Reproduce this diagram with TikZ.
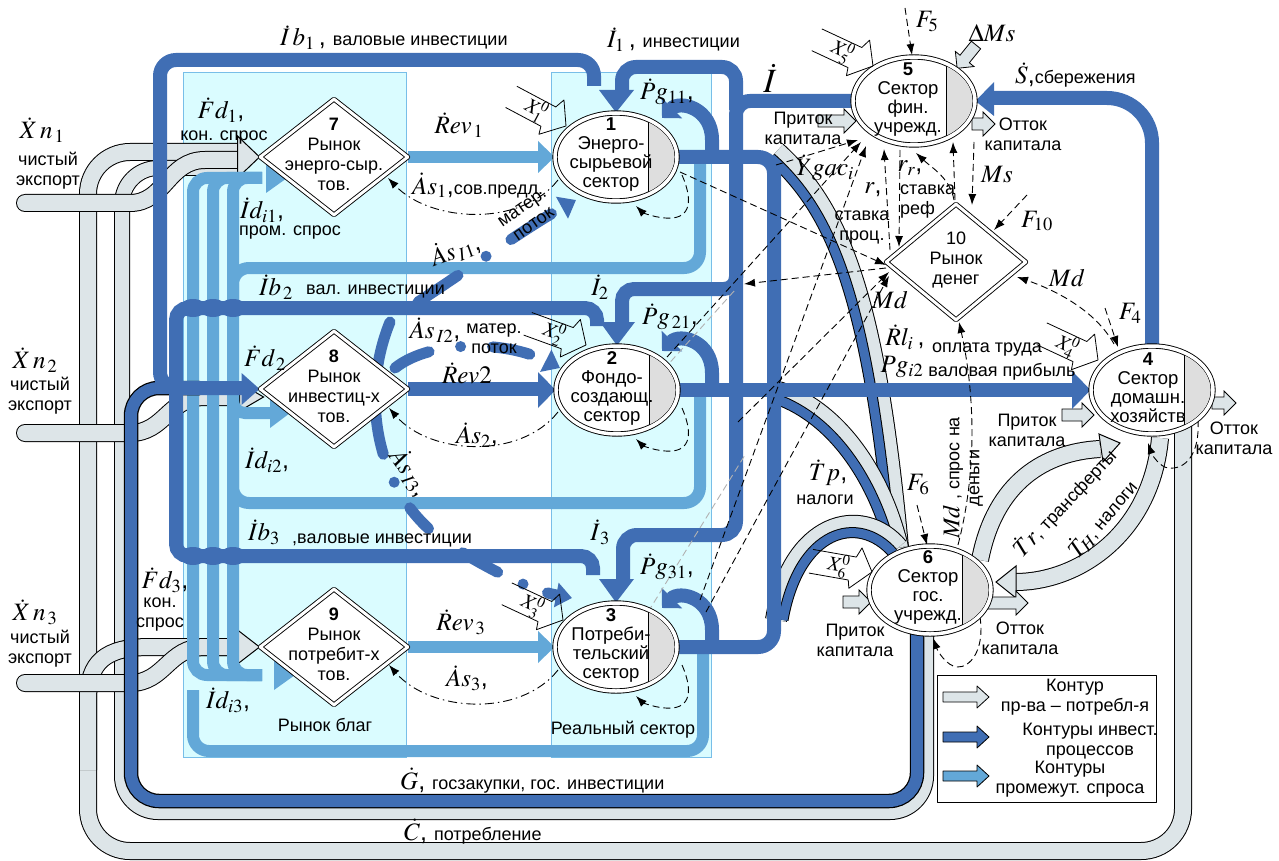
\documentclass[tikz,border=0pt]{standalone}
\usepackage{mathptmx}
\usepackage{fontspec}
\setmainfont{Liberation Sans}
\usetikzlibrary{arrows.meta,shapes.geometric,calc}
\definecolor{dbc}{RGB}{64,110,180}
\definecolor{lbc}{RGB}{99,168,216}
\definecolor{grc}{RGB}{221,229,232}
\definecolor{cyb}{RGB}{218,252,255}
\definecolor{cyl}{RGB}{120,190,232}
\definecolor{hat}{RGB}{222,222,222}
\pgfdeclarelayer{bg}
\pgfdeclarelayer{mid}
\pgfsetlayers{bg,mid,main}
\newcommand\smtxt[1]{{\fontsize{18}{20}\selectfont #1}}
\newcommand\blkarr[5]{\filldraw[fill=#5,draw=black,line width=0.8pt] (#1,#2-#4) -- (#3-12,#2-#4) -- (#3-12,#2-#4-6) -- (#3,#2) -- (#3-12,#2+#4+6) -- (#3-12,#2+#4) -- (#1,#2+#4) -- cycle;}
\tikzset{
 db/.style={draw=dbc,line width=14pt},
 lb/.style={draw=lbc,line width=12pt},
 gb/.style={draw=black,line width=1pt,double=grc,double distance=16pt},
 dsh/.style={draw=black,line width=0.9pt,dash pattern=on 7pt off 4pt},
 dshdot/.style={draw=black,line width=0.9pt,dash pattern=on 9pt off 4pt on 1.5pt off 4pt},
 ltip/.style={-{Latex[length=11pt,width=8pt]}},
 mflow/.style={draw=dbc,line width=11pt,line cap=round},
 sector/.style={ellipse,draw,line width=0.9pt,double=white,double distance=3.5pt,fill=white,minimum width=122pt,minimum height=88pt,inner sep=0pt},
 market/.style={diamond,draw,line width=0.9pt,double=white,double distance=3pt,fill=white,minimum width=148pt,minimum height=116pt,inner sep=0pt},
 ntxt/.style={align=center,font=\fontsize{18.5}{19}\selectfont,inner sep=0pt},
 lbl/.style={align=center,font=\fontsize{18}{20}\selectfont,inner sep=0pt},
 ml/.style={font=\fontsize{25}{27}\selectfont,inner sep=0pt},
}
\begin{document}
\begin{tikzpicture}[x=1pt,y=-1pt,line join=round]
\useasboundingbox (0,0) rectangle (1279,861);
\begin{pgfonlayer}{bg}
 \fill[white] (0,0) rectangle (1279,861);
 \filldraw[fill=cyb,draw=cyl,line width=0.8pt] (183,72) rectangle (406,757);
 \filldraw[fill=cyb,draw=cyl,line width=0.8pt] (551,72) rectangle (711,757);
\end{pgfonlayer}
% ---------- nodes ----------
\foreach \n/\cx/\cy in {s1/616/157,s2/617/390,s3/616/647,s4/1152/390,s5/914/101,s6/930/590}{
  \node[sector] (\n) at (\cx,\cy) {};
  \begin{scope}
   \clip (\cx,\cy) ellipse [x radius=58.5pt,y radius=41.5pt];
   \fill[hat] (\cx+32,\cy-50) rectangle (\cx+70,\cy+50);
  \end{scope}
  \draw[line width=0.9pt] (\cx+32,\cy-35) -- (\cx+32,\cy+35);
}
\node[market] (d7) at (334,157) {};
\node[market] (d8) at (334,389) {};
\node[market] (d9) at (334,647) {};
\node[market,minimum width=140pt,minimum height=116pt] (d10) at (956,262) {};
% ---------- connectors ----------
\begin{pgfonlayer}{mid}
% grey contours
\draw[gb,rounded corners=42pt] (1183,425) -- (1183,851) -- (88,851) -- (88,152) -- (240,152);
\draw[gb,double distance=14pt,rounded corners=36pt] (926,632) -- (926,812) -- (122,812) -- (122,168) -- (240,168);
\draw[gb] (88,770) -- (88,700) .. controls (88,662) and (105,647) .. (150,647) -- (240,647);
\draw[gb,line cap=round] (25,203) -- (130,203) .. controls (165,203) and (168,160) .. (205,160) -- (240,160);
\draw[gb,line cap=round] (25,433) -- (130,433) .. controls (165,433) and (168,397) .. (205,397) -- (240,397);
\draw[gb,line cap=round] (25,683) -- (130,683) .. controls (165,683) and (168,647) .. (205,647) -- (240,647);
\filldraw[fill=grc,draw=black,line width=1pt] ($(d7.west)+(-22,-21)$) -- (d7.west) -- ($(d7.west)+(-22,21)$) -- cycle;
\filldraw[fill=grc,draw=black,line width=1pt] ($(d8.west)+(-20,-6)$) -- ($(d8.west)+(4,8)$) -- ($(d8.west)+(-20,22)$) -- cycle;
\filldraw[fill=grc,draw=black,line width=1pt] ($(d9.west)+(-22,-17)$) -- (d9.west) -- ($(d9.west)+(-22,17)$) -- cycle;
% taxes bands to sector 6
\draw[black,line width=22pt] (776,152) .. controls (840,210) and (875,300) .. (898,548);
\draw[grc,line width=20pt] (776,152) .. controls (840,210) and (875,300) .. (898,548);
\draw[black,line width=11pt] (771,158) .. controls (834,214) and (868,303) .. (891,548);
\draw[dbc,line width=9pt] (771,158) .. controls (834,214) and (868,303) .. (891,548);
\draw[black,line width=22pt] (778,392) .. controls (840,412) and (882,480) .. (898,548);
\draw[grc,line width=20pt] (778,392) .. controls (840,412) and (882,480) .. (898,548);
\draw[black,line width=11pt] (776,399) .. controls (835,420) and (875,484) .. (891,550);
\draw[dbc,line width=9pt] (776,399) .. controls (835,420) and (875,484) .. (891,550);
\draw[black,line width=22pt] (776,620) .. controls (792,522) and (862,505) .. (898,548);
\draw[grc,line width=20pt] (776,620) .. controls (792,522) and (862,505) .. (898,548);
\draw[black,line width=11pt] (783,620) .. controls (799,530) and (858,513) .. (893,553);
\draw[dbc,line width=9pt] (783,620) .. controls (799,530) and (858,513) .. (893,553);
% sector 4 <-> sector 6
\draw[gb] (980,560) .. controls (995,482) and (1045,452) .. (1100,449);
\filldraw[fill=grc,draw=black,line width=1pt] (1099,434) -- (1120,443) -- (1103,462) -- cycle;
\draw[gb] (1160,438) .. controls (1152,530) and (1082,582) .. (1015,582);
\filldraw[fill=grc,draw=black,line width=1pt] (1016,566) -- (996,582) -- (1016,598) -- cycle;
% capital in/out
\blkarr{818}{121}{856}{6}{grc}
\blkarr{972}{124}{995}{6}{grc}
\blkarr{1062}{415}{1094}{6}{grc}
\blkarr{1212}{403}{1236}{6}{grc}
\blkarr{843}{602}{871}{6}{grc}
\blkarr{985}{603}{1028}{6}{grc}
\begin{scope}[shift={(976,45)},rotate=-129]
 \blkarr{0}{0}{30}{6}{grc}
\end{scope}
% light blue contours
\foreach \x in {193,213,233}{\draw[lb,rounded corners=14pt] (262,178) -- (\x,178) -- (\x,675) -- (262,675);}
\draw[lb,rounded corners=16pt] (700,163) -- (700,268) -- (233,268) -- (233,300);
\draw[lb,rounded corners=16pt] (700,396) -- (700,503) -- (233,503) -- (233,470);
\draw[lb,rounded corners=16pt] (703,653) -- (703,751) -- (193,751) -- (193,690);
\draw[lb,rounded corners=12pt] (233,395) -- (233,413) -- (272,413);
\draw[lb] (d7.east) -- (538,157);
\draw[lb] (d9.east) -- (538,647);
\fill[lbc] (538,141) -- (s1.west) -- (538,173) -- cycle;
\fill[lbc] (538,631) -- (s3.west) -- (538,663) -- cycle;
\fill[lbc] (266,163) -- (287,178) -- (266,193) -- cycle;
\fill[lbc] (270,398) -- (290,413) -- (270,428) -- cycle;
\fill[lbc] (274,660) -- (295,675) -- (274,690) -- cycle;
% dark blue contours
\draw[black,line width=14.5pt,rounded corners=28pt] (917,632) -- (917,801) -- (131,801) -- (131,388) -- (200,388);
\draw[dbc,line width=12pt,rounded corners=28pt] (917,632) -- (917,801) -- (131,801) -- (131,388) -- (200,388);
\draw[db,rounded corners=16pt] (594,86) -- (594,60) -- (160,60) -- (160,388) -- (242,388);
\draw[db,rounded corners=12pt] (597,326) -- (597,308) -- (176,308) -- (176,388);
\draw[db,rounded corners=12pt] (176,388) -- (176,556) -- (593,556) -- (593,575);
\foreach \x in {193,213,233}{
 \foreach \y in {308,556}{
  \fill[dbc] (\x-10,\y-6) .. controls (\x-5,\y-10) and (\x+5,\y-10) .. (\x+10,\y-6) -- cycle;
  \fill[dbc] (\x-10,\y+6) .. controls (\x-5,\y+10) and (\x+5,\y+10) .. (\x+10,\y+6) -- cycle;
 }
}
\draw[db,rounded corners=14pt] (736,110) -- (736,67) -- (622,67) -- (622,92);
\draw[db,rounded corners=14pt] (s5.west) -- (736,101) -- (736,535) -- (623,535) -- (623,582);
\draw[db,rounded corners=12pt] (736,270) -- (736,289) -- (622,289) -- (622,325);
\draw[db,rounded corners=45pt] (1152,350) -- (1152,98) -- (990,98);
\draw[db,rounded corners=16pt] (s1.east) -- (774,157) -- (774,395);
\draw[db,rounded corners=16pt] (s3.east) -- (774,647) -- (774,385);
\draw[db] (s2.east) -- (1072,390);
\draw[db] (d8.east) -- (538,389);
\draw[db,-{Triangle[length=14pt,width=28pt]}] (712,157) -- (712,140) .. controls (712,108) and (680,100) .. (662,118);
\draw[db,-{Triangle[length=14pt,width=28pt]}] (712,390) -- (712,373) .. controls (712,341) and (680,333) .. (662,351);
\draw[db,-{Triangle[length=14pt,width=28pt]}] (712,647) -- (712,630) .. controls (712,598) and (680,590) .. (662,608);
\fill[dbc] (599,90) -- (634,90) -- (s1.north) -- cycle;
\fill[dbc] (600,322) -- (635,322) -- (s2.north) -- cycle;
\fill[dbc] (599,579) -- (634,579) -- (s3.north) -- cycle;
\fill[dbc] ($(d8.west)+(-18,-16)$) -- (d8.west) -- ($(d8.west)+(-18,16)$) -- cycle;
\fill[dbc] (1072,371) -- (s4.west) -- (1072,409) -- cycle;
\fill[dbc] (538,372) -- (s2.west) -- (538,408) -- cycle;
\fill[dbc] (994,82) -- (s5.east) -- (994,116) -- cycle;
% material flows
\draw[mflow,dash pattern=on 48pt off 34pt on 0pt off 30pt,-{Triangle[length=16pt,width=24pt]}] (418,302) .. controls (460,275) and (525,228) .. (576,200);
\draw[mflow,dash pattern=on 38pt off 32pt on 0pt off 32pt,-{Triangle[length=16pt,width=24pt]}] (395,368) .. controls (430,340) and (505,340) .. (560,368);
\draw[mflow,dash pattern=on 135pt off 30pt on 0pt off 30pt on 28pt off 42pt on 40pt off 28pt on 0pt off 26pt,-{Triangle[length=16pt,width=24pt]}] (390,322) .. controls (358,400) and (378,500) .. (450,545) .. controls (490,570) and (530,590) .. (572,598);
% dash-dot supply
\draw[dshdot,ltip] (558,180) .. controls (520,228) and (430,222) .. (388,178);
\draw[dshdot,ltip] (558,412) .. controls (520,460) and (430,455) .. (389,408);
\draw[dshdot,ltip] (558,670) .. controls (520,718) and (430,712) .. (389,665);
% dashed information links
\begin{scope}[dsh]
\draw[ltip] (905,8) -- (912,55);
\draw[ltip] (1027,195) -- (994,230);
\draw[ltip] (1105,308) -- (1118,347);
\draw[ltip] (917,505) -- (927,545);
\draw[ltip] (890,250) -- (884,149);
\draw[ltip] (900,150) -- (899,247);
\draw[ltip] (954,200) .. controls (950,178) and (932,168) .. (916,153);
\draw[ltip] (955,200) -- (953,142);
\draw[ltip] (974,142) -- (972,205);
\draw[ltip] (1114,344) .. controls (1095,310) and (1055,290) .. (1017,277);
\draw[ltip] (958,545) .. controls (980,460) and (972,380) .. (959,322);
\draw[ltip] (680,172) -- (886,265);
\draw[ltip] (886,268) -- (744,284);
\draw[ltip] (738,422) -- (889,272);
\draw[ltip] (776,165) -- (858,140);
\draw[ltip] (667,357) -- (861,142);
\draw[ltip] (700,600) -- (866,146);
\draw[ltip] (706,612) -- (889,276);
\draw[draw=gray!60] (648,612) -- (745,455);
\draw[draw=gray!60] (656,378) -- (735,290);
\draw[ltip] (682,175) .. controls (695,205) and (688,220) .. (665,218) .. controls (652,217) and (642,212) .. (636,206);
\draw[ltip] (682,408) .. controls (695,438) and (688,453) .. (665,451) .. controls (652,450) and (642,445) .. (636,439);
\draw[ltip] (682,665) .. controls (695,695) and (688,710) .. (665,708) .. controls (652,707) and (642,702) .. (636,696);
\draw[ltip] (1198,420) .. controls (1200,455) and (1185,470) .. (1168,468) .. controls (1160,467) and (1152,455) .. (1148,443);
\draw[ltip] (980,617) .. controls (985,650) and (970,668) .. (957,667) .. controls (947,666) and (938,652) .. (933,638);
\end{scope}
\end{pgfonlayer}
% ---------- exogenous signals ----------
\foreach \px/\py/\ang/\k in {566/126/-28/1,586/345/-20/2,563/620/-25/3,1098/360/-25/4,873/66/-25/5,872/572/-10/6}{
 \begin{scope}[shift={(\px,\py)},rotate=\ang]
  \draw[line width=0.8pt] (-62,-12) -- (-18,-12) -- (-14,-22) -- (0,0) -- (-20,20) -- (-22,12) -- (-62,12);
  \node[font=\fontsize{20}{21}\selectfont,inner sep=0pt,rotate=\ang] (x\k) at (-34,0) {$X^{0}_{\k}$};
 \end{scope}
}
% ---------- node texts ----------
\node[ntxt] (t1) at ($(s1)+(-5,-2)$) {\textbf{1}\\Энерго-\\сырьевой\\сектор};
\node[ntxt] (t2) at ($(s2)+(-5,-2)$) {\textbf{2}\\Фондо-\\создающ.\\сектор};
\node[ntxt] (t3) at ($(s3)+(-5,-2)$) {\textbf{3}\\Потреби-\\тельский\\сектор};
\node[ntxt] (t4) at ($(s4)+(-4,-2)$) {\textbf{4}\\Сектор\\домашн.\\хозяйств};
\node[ntxt] (t5) at ($(s5)+(-6,-1)$) {\textbf{5}\\Сектор\\фин.\\учрежд.};
\node[ntxt] (t6) at ($(s6)+(-2,-3)$) {\textbf{6}\\Сектор\\гос.\\учрежд.};
\node[lbl] (t7) at ($(d7)+(0,-3)$) {\textbf{7}\\Рынок\\энерго-сыр.\\тов.};
\node[lbl] (t8) at ($(d8)+(0,-3)$) {\textbf{8}\\Рынок\\инвестиц-х\\тов.};
\node[lbl] (t9) at ($(d9)+(0,-3)$) {\textbf{9}\\Рынок\\потребит-х\\тов.};
\node[lbl] (t10) at ($(d10)+(0,-2)$) {10\\Рынок\\денег};
% ---------- labels ----------
\node[ml,anchor=base west] (a1) at (280,46) {$\dot I\,b_{1}$\,,\ \smtxt{валовые инвестиции}};
\node[ml,anchor=base west] (a2) at (607,48) {$\dot I_{1}$\,,\ \smtxt{инвестиции}};
\node[font=\fontsize{34}{36}\selectfont,inner sep=0pt] (a3) at (770,78) {$\dot I$};
\node[ml] (a4) at (667,92) {$\dot P g_{11}$,};
\node[ml] (a5) at (459,125) {$\dot R ev_{\,1}$};
\node[ml,anchor=base west] (a6) at (412,194) {$\dot A s_{1}$,\smtxt{сов.предл.}};
\node[lbl,rotate=35] (a7) at (528,216) {матер.\\поток};
\node[ml,rotate=20] (a8) at (455,250) {$\dot A s_{\,I1}$,};
\node[ml] (a9) at (221,110) {$\dot F d_{1}$,};
\node[lbl] (a10) at (224,138) {кон. спрос};
\node[ml] (a11) at (42,130) {$\dot X\,n_{\,1}$};
\node[lbl] (a12) at (48,171) {чистый\\экспорт};
\node[ml] (a13) at (262,210) {$\dot I d_{i1}$,};
\node[lbl] (a14) at (290,233) {пром. спрос};
\node[ml] (a15) at (276,287) {$\dot I b_{\,2}$};
\node[lbl,anchor=west] (a16) at (306,291) {вал. инвестиции};
\node[ml] (a17) at (600,287) {$\dot I_{2}$};
\node[ml] (a18) at (670,317) {$\dot P g_{\,21}$,};
\node[ml] (a19) at (435,330) {$\dot A s_{\,I2}$,};
\node[lbl] (a20) at (494,339) {матер.\\поток};
\node[ml] (a21) at (467,373) {$\dot R ev2$};
\node[ml] (a22) at (477,435) {$\dot A s_{2}$,};
\node[ml,rotate=-55] (a23) at (410,472) {$\dot A s_{\,I3}$,};
\node[ml] (a24) at (265,358) {$\dot F d_{\,2}$};
\node[ml] (a25) at (267,460) {$\dot I d_{i2}$,};
\node[ml] (a26) at (35,360) {$\dot X\,n_{\,2}$};
\node[lbl] (a27) at (40,396) {чистый\\экспорт};
\node[ml] (a28) at (264,532) {$\dot I b_{3}$};
\node[lbl,anchor=west] (a29) at (292,540) {,валовые инвестиции};
\node[ml] (a30) at (600,532) {$\dot I_{\,3}$};
\node[ml] (a31) at (667,567) {$\dot P g_{31}$,};
\node[ml] (a32) at (461,622) {$\dot R ev_{\,3}$};
\node[ml] (a33) at (467,678) {$\dot A s_{3}$,};
\node[ml] (a34) at (165,580) {$\dot F d_{3}$,};
\node[lbl] (a35) at (160,615) {кон.\\спрос};
\node[ml] (a36) at (35,612) {$\dot X\,n_{\,3}$};
\node[lbl] (a37) at (40,649) {чистый\\экспорт};
\node[ml] (a38) at (228,700) {$\dot I d_{i3}$,};
\node[lbl] (a39) at (325,725) {Рынок благ};
\node[lbl] (a40) at (623,730) {Реальный сектор};
\node[ml,anchor=base west] (a41) at (400,789) {$\dot G$, \smtxt{госзакупки, гос. инвестиции}};
\node[ml,anchor=base west] (a42) at (404,840) {$\dot C$, \smtxt{потребление}};
\node[ml] (a43) at (825,168) {$\dot Y gac_{i}$};
\node[ml] (a44) at (873,190) {$r$,};
\node[lbl] (a45) at (862,228) {ставка\\проц.};
\node[ml] (a46) at (910,168) {$r_{r}$,};
\node[lbl,align=left,anchor=west] (a47) at (900,202) {ставка\\реф};
\node[ml] (a48) at (997,175) {$Ms$};
\node[ml] (a49) at (1037,221) {$F_{10}$};
\node[ml] (a50) at (1067,278) {$Md$};
\node[ml] (a51) at (927,22) {$F_{5}$};
\node[ml] (a52) at (992,33) {$\Delta Ms$};
\node[ml,anchor=base west] (a53) at (1015,84) {$\dot S$,\smtxt{сбережения}};
\node[lbl] (a54) at (803,128) {Приток\\капитала};
\node[lbl] (a55) at (1023,134) {Отток\\капитала};
\node[ml] (a56) at (890,300) {$Md$};
\node[ml] (a57) at (905,337) {$\dot R l_{i}$\,,};
\node[lbl] (a58) at (987,350) {оплата труда};
\node[ml] (a59) at (902,367) {$P g_{i2}$};
\node[lbl] (a60) at (1002,372) {валовая прибыль};
\node[ml] (a61) at (1130,313) {$F_{4}$};
\node[lbl] (a62) at (1027,430) {Приток\\капитала};
\node[lbl] (a63) at (1234,438) {Отток\\капитала};
\node[ml] (a64) at (828,473) {$\dot T p$,};
\node[lbl] (a65) at (825,500) {налоги};
\node[ml] (a66) at (918,485) {$F_{6}$};
\node[lbl,rotate=90] (a67) at (963,478) {{\fontsize{24}{26}\selectfont$Md$} , спрос на\\деньги};
\node[lbl,rotate=47] (a68) at (1064,502) {{\fontsize{24}{26}\selectfont$\dot T r$}, трансферты};
\node[lbl,rotate=50] (a69) at (1102,518) {{\fontsize{24}{26}\selectfont$\dot T_{H}$}, налоги};
\node[lbl] (a70) at (855,640) {Приток\\капитала};
\node[lbl] (a71) at (1020,638) {Отток\\капитала};
% ---------- legend ----------
\draw[line width=0.8pt] (937,675) rectangle (1156,802);
\blkarr{943}{697}{989}{5}{grc}
\blkarr{943}{737}{989}{5}{dbc}
\blkarr{943}{776}{989}{5}{lbc}
\node[lbl] (g1) at (1075,697) {Контур\\пр-ва – потребл-я};
\node[lbl] (g2) at (1090,741) {Контуры инвест.\\процессов};
\node[lbl] (g3) at (1070,779) {Контуры\\промежут. спроса};
\end{tikzpicture}
\end{document}
